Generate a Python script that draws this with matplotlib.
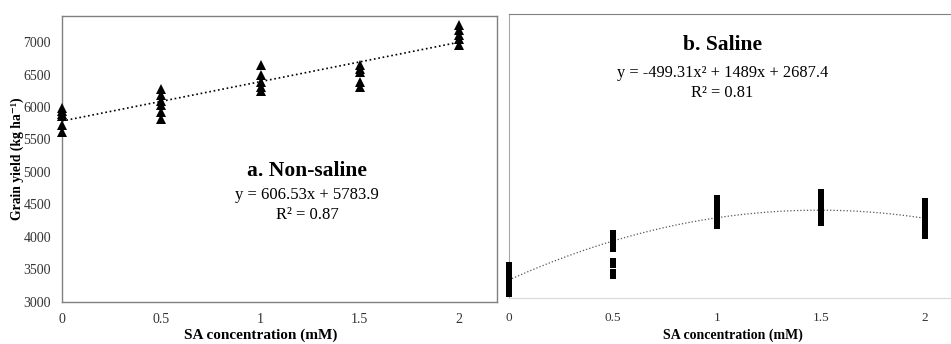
import numpy as np
import matplotlib
matplotlib.use("Agg")
import matplotlib.pyplot as plt

plt.rcParams['font.family'] = ['Liberation Serif', 'DejaVu Serif']
plt.rcParams['mathtext.fontset'] = 'stix'

# SA concentration (mM)
sa_levels = [0, 0.5, 1, 1.5, 2]

# grain yield, non-saline (kg/ha), read per SA level
nonsaline = [
    [5980, 5940, 5900, 5860, 5730, 5620],
    [6270, 6180, 6100, 6030, 5920, 5820],
    [6640, 6490, 6390, 6310, 6250],
    [6650, 6590, 6540, 6390, 6310],
    [7260, 7190, 7110, 7040, 6950],
]

# grain yield, saline (kg/ha)
saline = [
    [2890, 2760, 2630, 2500],
    [3400, 3300, 3210, 2960, 2780],
    [3960, 3830, 3700, 3580],
    [4050, 3975, 3815, 3705, 3625],
    [3910, 3865, 3710, 3560, 3420],
]

lin_coef = [606.53, 5783.9]            # y = a x + b
quad_coef = [-499.31, 1489, 2687.4]    # y = a x^2 + b x + c
xticks = [0, 0.5, 1, 1.5, 2]
yticks = [3000, 3500, 4000, 4500, 5000, 5500, 6000, 6500, 7000]

W, H = 951, 344
fig = plt.figure(figsize=(W / 100, H / 100), dpi=100)

def frac(x0, y0, x1, y1):
    # pixel box -> figure fraction
    return [x0 / W, 1 - y1 / H, (x1 - x0) / W, (y1 - y0) / H]

# --- a. non-saline ---
ax0 = fig.add_axes(frac(62, 16, 497, 302))
xs = np.concatenate([[x] * len(v) for x, v in zip(sa_levels, nonsaline)])
ys = np.concatenate(nonsaline)
ax0.plot(xs, ys, '^', color='black', ms=6.6, mew=0, clip_on=False, zorder=3)
xx = np.linspace(0, 2, 100)
ax0.plot(xx, np.polyval(lin_coef, xx), ':', color='black', lw=1.2)
ax0.set_xlim(0, 2.191)
ax0.set_ylim(3000, 7400)
ax0.set_xticks(xticks)
ax0.set_xticklabels(['0', '0.5', '1', '1.5', '2'])
ax0.set_yticks(yticks)
ax0.tick_params(length=0, labelsize=10, colors='#333333', pad=8)
for s in ax0.spines.values():
    s.set_color('#808080')
    s.set_linewidth(1.0)
ax0.text(1.235, 5020, 'a. Non-saline', ha='center', va='center',
         fontsize=15.5, fontweight='bold')
ax0.text(1.235, 4650, 'y = 606.53x + 5783.9', ha='center', va='center', fontsize=12)
ax0.text(1.235, 4340, 'R² = 0.87', ha='center', va='center', fontsize=12)
ax0.text(1.0, -0.115, 'SA concentration (mM)', transform=ax0.get_xaxis_transform(),
         ha='center', va='center', fontsize=11, fontweight='bold')

fig.text(17 / W, 1 - 159 / H, 'Grain yield (kg ha⁻¹)', rotation=90,
         ha='center', va='center', fontsize=9.8, fontweight='bold')

# --- b. saline ---
ax1 = fig.add_axes(frac(509, 14, 951, 298))
xs = np.concatenate([[x] * len(v) for x, v in zip(sa_levels, saline)])
ys = np.concatenate(saline)
rect = [(-0.33, -0.5), (0.33, -0.5), (0.33, 0.5), (-0.33, 0.5), (-0.33, -0.5)]
ax1.plot(xs, ys, marker=rect, ls='none', color='black', ms=7.2, mew=0,
         clip_on=False, zorder=3)
ax1.plot(xx, np.polyval(quad_coef, xx), ':', color='#555555', lw=0.9)
ax1.set_xlim(0, 2.125)
ax1.set_ylim(2400, 6920)
ax1.set_xticks(xticks)
ax1.set_xticklabels(['0', '0.5', '1', '1.5', '2'])
ax1.set_yticks([])
ax1.tick_params(length=0, labelsize=9.5, colors='#333333', pad=10)
ax1.spines['right'].set_visible(False)
ax1.spines['top'].set_color('#808080')
ax1.spines['left'].set_color('#a6a6a6')
ax1.spines['bottom'].set_color('#d9d9d9')
ax1.text(1.025, 6430, 'b. Saline', ha='center', va='center',
         fontsize=15.5, fontweight='bold')
ax1.text(1.025, 5980, 'y = -499.31x² + 1489x + 2687.4', ha='center', va='center', fontsize=11.8)
ax1.text(1.025, 5660, 'R² = 0.81', ha='center', va='center', fontsize=11.8)
ax1.text((733 - 509) / 442, -0.13, 'SA concentration (mM)', transform=ax1.transAxes,
         ha='center', va='center', fontsize=10, fontweight='bold')

fig.savefig('out.png', dpi=100)
